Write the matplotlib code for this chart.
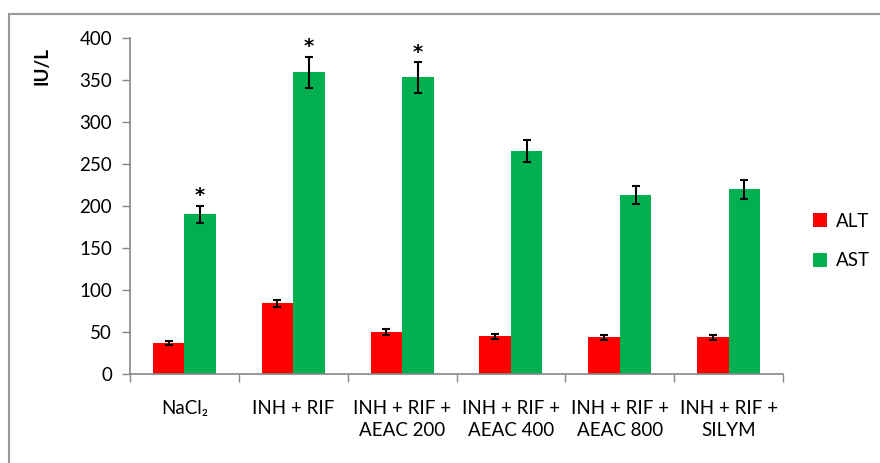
import matplotlib.pyplot as plt
import numpy as np
from matplotlib.patches import Rectangle

groups = ['NaCl₂', 'INH + RIF', 'INH + RIF +\nAEAC 200', 'INH + RIF +\nAEAC 400',
          'INH + RIF +\nAEAC 800', 'INH + RIF +\nSILYM']
alt = [37, 84, 50, 45, 44, 44]
alt_err = [2, 4.5, 3, 3, 3, 3]
ast = [190, 359, 353, 265, 213, 220]
ast_err = [10, 18, 18, 13, 11, 11.5]
signif = [True, True, True, False, False, False]

plt.rcParams['font.family'] = ['Lato', 'DejaVu Sans']

fig = plt.figure(figsize=(8.8, 4.63), dpi=100)
ax = fig.add_axes([130/880, 1 - 374/463, 653/880, 336/463])

x = np.arange(len(groups))
w = 0.29
ax.bar(x - w/2, alt, w, color='#FF0000', label='ALT', zorder=2)
ax.bar(x + w/2, ast, w, color='#00B050', label='AST', zorder=2)
ax.errorbar(x - w/2, alt, yerr=alt_err, fmt='none', ecolor='black', elinewidth=1.5, capsize=3, capthick=1.5, zorder=3)
ax.errorbar(x + w/2, ast, yerr=ast_err, fmt='none', ecolor='black', elinewidth=1.5, capsize=3, capthick=1.5, zorder=3)
for i in range(len(groups)):
    if signif[i]:
        ax.text(x[i] + w/2, ast[i] + ast_err[i] + 1, '*', ha='center', va='bottom',
                fontsize=14, fontweight='bold', family='DejaVu Sans')

ax.set_xlim(-0.5, len(groups) - 0.5)
ax.set_ylim(0, 400)
ax.set_yticks(np.arange(0, 401, 50))
ax.set_xticks(x)
ax.set_xticklabels(groups, fontsize=13.5, linespacing=1.35)
ax.set_xticks(np.arange(-0.5, len(groups), 1), minor=True)
ax.tick_params(axis='x', which='major', length=0, pad=19)
ax.tick_params(axis='x', which='minor', length=6, color='#868686', width=1)
ax.tick_params(axis='y', length=6, color='#868686', width=1, labelsize=13.5, pad=7)

for s in ['top', 'right']:
    ax.spines[s].set_visible(False)
for s in ['left', 'bottom']:
    ax.spines[s].set_color('#868686')
    ax.spines[s].set_linewidth(1.2)

fig.text(42/880, 1 - 66/463, 'IU/L', rotation=90, ha='center', va='center',
         fontsize=13.5, fontweight='bold')

fig.legend(loc='center left', bbox_to_anchor=(796/880, 1 - 241/463), frameon=False,
           fontsize=13.5, handlelength=0.75, handleheight=0.75, labelspacing=1.2, handletextpad=0.5)

fig.patches.append(Rectangle((9/880, -0.1), 1.0, 1 - 14/463 + 0.1, transform=fig.transFigure,
                             fill=False, edgecolor='#9a9a9a', linewidth=1.5))

fig.savefig('out.png', dpi=100)
